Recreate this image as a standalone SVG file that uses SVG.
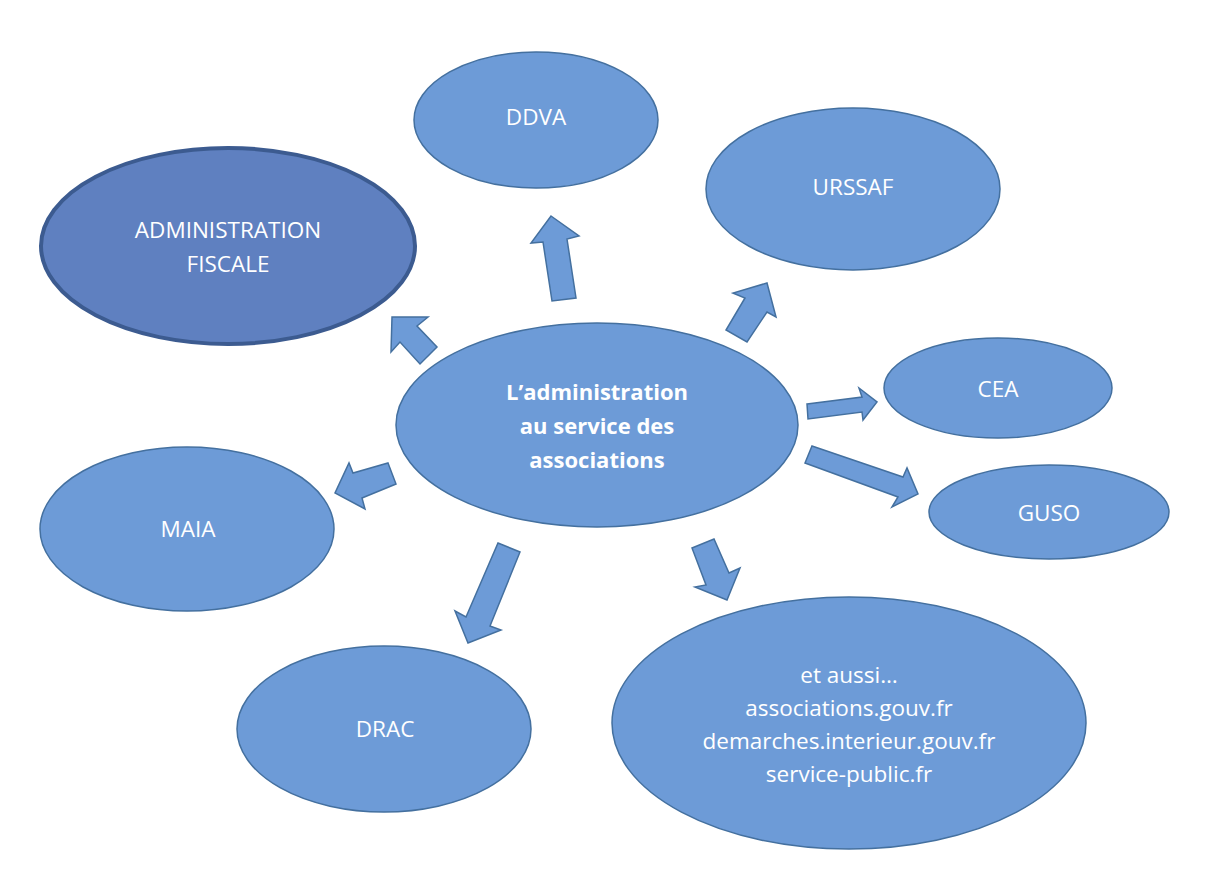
<svg xmlns="http://www.w3.org/2000/svg" width="1211" height="890" viewBox="0 0 1211 890">
<style>
.n{fill:#6d9bd7;stroke:#44709f;stroke-width:1.5}
.f{fill:#5f80c0;stroke:#3c5b90;stroke-width:4}
.a{fill:#6d9bd7;stroke:#44709f;stroke-width:1.5;stroke-linejoin:miter}
text{font-family:"Open Sans","Liberation Sans",sans-serif;font-size:22.5px;fill:#ffffff;text-anchor:middle}
.b{font-weight:bold;font-size:22px}
</style>
<rect width="1211" height="890" fill="#ffffff"/>
<g id="connectors">
<polygon class="a" points="551,216 579,236 567,239 576,298 552,301 543,242 531,243"/>
<polygon class="a" points="392,317 428,317 417,326 437,347 420,364 400,342 391,352"/>
<polygon class="a" points="767,283 776,317 767,312 747,342 726,330 745,298 733,293"/>
<polygon class="a" points="807,404 862,397 859,388 877,402 863,420 862,412 808,419"/>
<polygon class="a" points="812,446 903,477 907,468 918,494 892,507 898,497 805,463"/>
<polygon class="a" points="388,463 396,484 362,498 365,509 335,493 349,463 353,473"/>
<polygon class="a" points="498,543 520,552 490,626 501,630 468,643 455,611 466,617"/>
<polygon class="a" points="692,548 714,539 729,573 740,568 727,600 695,587 706,585"/>
</g>
<g id="center">
<ellipse class="n" cx="597" cy="425" rx="201" ry="102"/>
<text class="b" x="597" y="400">L’administration</text>
<text class="b" x="597" y="434">au service des</text>
<text class="b" x="597" y="468">associations</text>
</g>
<g id="ddva">
<ellipse class="n" cx="536" cy="120" rx="122" ry="68"/>
<text x="536" y="125">DDVA</text>
</g>
<g id="urssaf">
<ellipse class="n" cx="853" cy="189" rx="147" ry="81"/>
<text x="853" y="195">URSSAF</text>
</g>
<g id="fiscale">
<ellipse class="f" cx="228" cy="246" rx="187" ry="98"/>
<text x="228" y="238">ADMINISTRATION</text>
<text x="228" y="272">FISCALE</text>
</g>
<g id="cea">
<ellipse class="n" cx="998" cy="388" rx="114" ry="50"/>
<text x="998" y="397">CEA</text>
</g>
<g id="guso">
<ellipse class="n" cx="1049" cy="512" rx="120" ry="47"/>
<text x="1049" y="521">GUSO</text>
</g>
<g id="maia">
<ellipse class="n" cx="187" cy="529" rx="147" ry="82"/>
<text x="188" y="537">MAIA</text>
</g>
<g id="drac">
<ellipse class="n" cx="384" cy="729" rx="147" ry="83"/>
<text x="385" y="737">DRAC</text>
</g>
<g id="etaussi">
<ellipse class="n" cx="849" cy="723" rx="237" ry="126"/>
<text x="849" y="683">et aussi…</text>
<text x="849" y="716">associations.gouv.fr</text>
<text x="849" y="749">demarches.interieur.gouv.fr</text>
<text x="849" y="782">service-public.fr</text>
</g>
</svg>
